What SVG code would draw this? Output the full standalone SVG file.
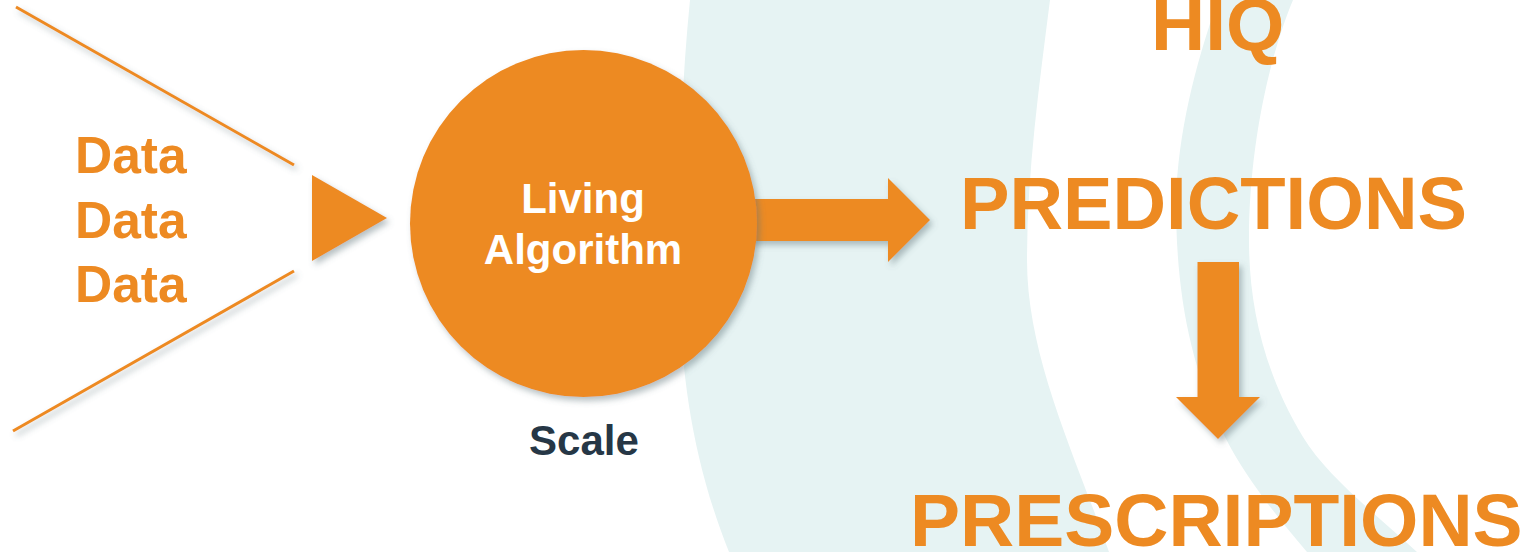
<svg xmlns="http://www.w3.org/2000/svg" width="1526" height="552" viewBox="0 0 1526 552">
  <defs>
    <filter id="shadow" x="-20%" y="-20%" width="140%" height="140%">
      <feDropShadow dx="3" dy="4" stdDeviation="3" flood-color="#5f7478" flood-opacity="0.45"/>
    </filter>
    <style>
      .band { fill: #e6f3f3; }
      .orange { fill: #ed8a22; }
      .wire { stroke: #ed8a22; stroke-width: 3; fill: none; }
      .lbl { font-family: "Liberation Sans", Arial, sans-serif; font-weight: bold; }
      .data { fill: #ed8a22; font-size: 51.5px; }
      .inner { fill: #ffffff; font-size: 42px; text-anchor: middle; }
      .scale { fill: #263746; font-size: 42px; text-anchor: middle; }
      .big { fill: #ed8a22; font-size: 75px; }
    </style>
  </defs>

  <rect width="1526" height="552" fill="#ffffff"/>

  <!-- background bands -->
  <g id="background">
    <path class="band" d="M690,0 C680,100 678,200 680,300 C681.7,384 695.4,468 729,552 L1109,552 C1075,454.7 1027,357.3 1027,260 C1027,173.3 1039,86.7 1050,0 Z"/>
    <path class="band" d="M1218,0 C1194.7,66.7 1178,133.3 1176,200 C1176,279 1185.5,358 1225,437 C1244.2,475.3 1274.4,513.7 1307,552 L1417,552 C1375,513.7 1326,475.3 1303,437 C1263.6,371.3 1249,305.7 1249,240 C1249,150 1268,60 1293,0 Z"/>
  </g>

  <!-- connectors -->
  <g id="connectors">
    <line class="wire" x1="16" y1="7" x2="294" y2="165" filter="url(#shadow)"/>
    <line class="wire" x1="294" y1="271" x2="13" y2="431" filter="url(#shadow)"/>
    <polygon id="funnel-arrow" class="orange" points="312,175 387,218 312,261" filter="url(#shadow)"/>
    <polygon id="arrow-right" class="orange" points="745,199 888,199 888,178 930,220 888,262 888,241 745,241" filter="url(#shadow)"/>
    <polygon id="arrow-down" class="orange" points="1197.5,262 1239,262 1239,397 1260,397 1218,439 1176,397 1197.5,397" filter="url(#shadow)"/>
  </g>

  <!-- input data -->
  <g id="data">
    <text class="lbl data" x="75" y="173">Data</text>
    <text class="lbl data" x="75" y="238">Data</text>
    <text class="lbl data" x="75" y="302">Data</text>
  </g>

  <!-- algorithm circle -->
  <g id="living-algorithm">
    <circle class="orange" cx="583.5" cy="223.5" r="173.5" filter="url(#shadow)"/>
    <text class="lbl inner" x="583" y="213">Living</text>
    <text class="lbl inner" x="583" y="264">Algorithm</text>
  </g>

  <g id="scale">
    <text class="lbl scale" x="584" y="455">Scale</text>
  </g>

  <g id="hiq">
    <text class="lbl big" x="1151" y="50">HIQ</text>
  </g>

  <g id="predictions">
    <text class="lbl big" x="960" y="229" textLength="507" lengthAdjust="spacingAndGlyphs">PREDICTIONS</text>
  </g>

  <g id="prescriptions">
    <text class="lbl big" x="910" y="546">PRESCRIPTIONS</text>
  </g>
</svg>
